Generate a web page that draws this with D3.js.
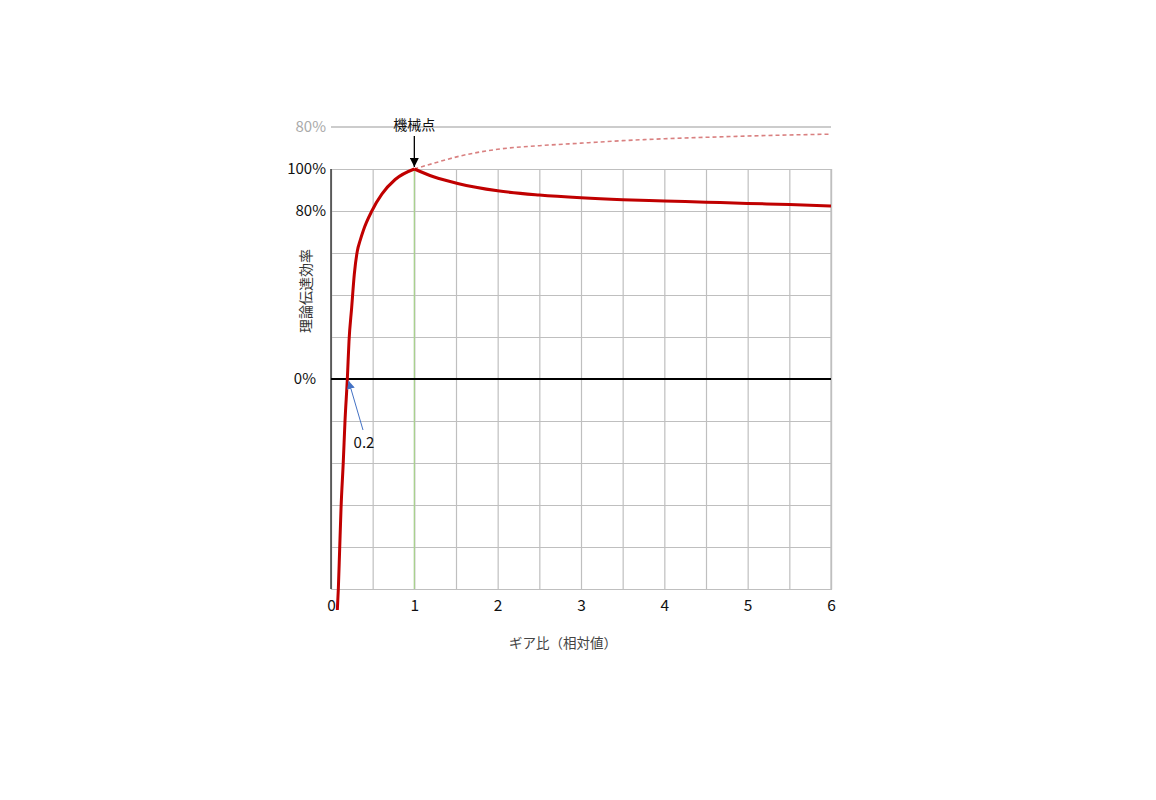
<!DOCTYPE html>
<html>
<head>
<meta charset="utf-8">
<script src="https://cdn.jsdelivr.net/npm/d3@7"></script>
<style>
  body { margin: 0; background: #fff; }
  svg { display: block; font-family: "Noto Sans CJK JP", "Noto Sans", sans-serif; }
</style>
</head>
<body>
<div id="chart"></div>
<script>
// gear ratio (relative) vs theoretical efficiency (%)
const solidX = [0.076, 0.088, 0.104, 0.12, 0.148, 0.168, 0.196, 0.216, 0.248, 0.28, 0.316, 0.35, 0.39, 0.49, 0.61, 0.77, 1.0,
                1.23, 1.52, 2.0, 2.5, 3.0, 3.5, 4.0, 4.5, 5.0, 5.5, 6.0];
const solidY = [-110, -100, -81, -62, -39, -20, 0, 18, 34, 50, 61, 66, 71, 80, 88, 95, 100,
                96.3, 93.1, 89.6, 87.6, 86.3, 85.4, 84.8, 84.2, 83.6, 83.1, 82.4];
const dashX = [1.0, 1.23, 1.52, 2.0, 2.5, 3.0, 3.5, 4.0, 4.5, 5.0, 5.5, 6.0];
const dashY = [100, 102.7, 105.9, 109.4, 111.1, 112.3, 113.5, 114.4, 115.1, 115.7, 116.2, 116.6];

const xGridTicks = d3.range(0, 6.01, 0.5);
const yGridTicks = d3.range(-100, 100.1, 20);
const yLabelTicks = [100, 80];
const topLineValue = 120;
const topLineLabel = "80%";
const zeroLabel = "0%";
const peakX = 1, peakY = 100;
const crossX = 0.2;

const W = 1156, H = 800;
const svg = d3.select("#chart").append("svg")
    .attr("width", W)
    .attr("height", H);

const x = d3.scaleLinear().domain([0, 6]).range([331, 831]);
const y = d3.scaleLinear().domain([-100, 100]).range([589, 169]);

const defs = svg.append("defs");
defs.append("marker")
    .attr("id", "blackHead")
    .attr("viewBox", "0 0 10 10")
    .attr("refX", 10).attr("refY", 5)
    .attr("markerWidth", 9).attr("markerHeight", 9)
    .attr("markerUnits", "userSpaceOnUse")
    .attr("orient", "auto")
    .append("path").attr("d", "M0,0L10,5L0,10Z").attr("fill", "#000");
defs.append("marker")
    .attr("id", "blueHead")
    .attr("viewBox", "0 0 10 10")
    .attr("refX", 10).attr("refY", 5)
    .attr("markerWidth", 8).attr("markerHeight", 8)
    .attr("markerUnits", "userSpaceOnUse")
    .attr("orient", "auto")
    .append("path").attr("d", "M0,0L10,5L0,10Z").attr("fill", "#4472c4");

// vertical grid + x labels
const xAxis = svg.append("g")
    .attr("transform", `translate(0,${y(-100)})`)
    .call(d3.axisBottom(x)
        .tickValues(xGridTicks)
        .tickSize(-(y(-100) - y(100)))
        .tickPadding(11)
        .tickFormat(d => Number.isInteger(d) ? d : ""));
xAxis.select(".domain").attr("stroke", "#bfbfbf").attr("stroke-width", 1.2);
xAxis.selectAll(".tick line").attr("stroke", "#bfbfbf").attr("stroke-width", 1.2);
xAxis.selectAll(".tick text")
    .attr("font-size", 15.5)
    .attr("fill", "#111")
    .attr("font-family", "'Noto Sans CJK JP', sans-serif");

// horizontal grid
const yAxis = svg.append("g")
    .attr("transform", `translate(${x(0)},0)`)
    .call(d3.axisLeft(y)
        .tickValues(yGridTicks)
        .tickSize(-(x(6) - x(0)))
        .tickPadding(5)
        .tickFormat(d => yLabelTicks.includes(d) ? d + "%" : ""));
yAxis.select(".domain").remove();
yAxis.selectAll(".tick line").attr("stroke", "#bfbfbf").attr("stroke-width", 1.2);
yAxis.selectAll(".tick text")
    .attr("font-size", 15)
    .attr("fill", "#111")
    .attr("font-family", "'Noto Sans CJK JP', sans-serif");

// right border
svg.append("line")
    .attr("x1", x(6)).attr("x2", x(6))
    .attr("y1", y(100)).attr("y2", y(-100))
    .attr("stroke", "#bfbfbf").attr("stroke-width", 1.2);

// green line at mechanical point
svg.append("line")
    .attr("x1", x(peakX)).attr("x2", x(peakX))
    .attr("y1", y(100)).attr("y2", y(-100))
    .attr("stroke", "#a9d18e").attr("stroke-width", 1.3);

// left axis line
svg.append("line")
    .attr("x1", x(0)).attr("x2", x(0))
    .attr("y1", y(100)).attr("y2", y(-100))
    .attr("stroke", "#222").attr("stroke-width", 1.3);

// zero line
svg.append("line")
    .attr("x1", x(0)).attr("x2", x(6))
    .attr("y1", y(0)).attr("y2", y(0))
    .attr("stroke", "#000").attr("stroke-width", 2);
svg.append("text")
    .attr("x", x(0) - 15).attr("y", y(0))
    .attr("dy", "0.35em")
    .attr("text-anchor", "end")
    .attr("font-size", 15)
    .attr("fill", "#111")
    .text(zeroLabel);

// top gray reference line
svg.append("line")
    .attr("x1", x(0)).attr("x2", x(6))
    .attr("y1", y(topLineValue)).attr("y2", y(topLineValue))
    .attr("stroke", "#cccccc").attr("stroke-width", 2);
svg.append("text")
    .attr("x", x(0) - 5).attr("y", y(topLineValue))
    .attr("dy", "0.35em")
    .attr("text-anchor", "end")
    .attr("font-size", 15)
    .attr("fill", "#aaaaaa")
    .text(topLineLabel);

// curves
const line = d3.line()
    .x(d => x(d[0]))
    .y(d => y(d[1]))
    .curve(d3.curveMonotoneX);

svg.append("path")
    .datum(dashX.map((d, i) => [d, dashY[i]]))
    .attr("d", line)
    .attr("fill", "none")
    .attr("stroke", "#d98080")
    .attr("stroke-width", 1.6)
    .attr("stroke-dasharray", "4,3");

// solid curve drawn as two pieces so the peak at the mechanical point stays sharp
const solidPts = solidX.map((d, i) => [d, solidY[i]]);
const peakIdx = solidX.indexOf(peakX);
const rising = solidPts.slice(0, peakIdx + 1);
const falling = solidPts.slice(peakIdx);
svg.append("path")
    .attr("d", line(rising) + line(falling))
    .attr("fill", "none")
    .attr("stroke", "#c00000")
    .attr("stroke-width", 3)
    .attr("stroke-linejoin", "round");

// mechanical point annotation
svg.append("line")
    .attr("x1", x(peakX)).attr("x2", x(peakX))
    .attr("y1", 136).attr("y2", y(peakY) - 2)
    .attr("stroke", "#000").attr("stroke-width", 1.3)
    .attr("marker-end", "url(#blackHead)");
svg.append("text")
    .attr("x", x(peakX)).attr("y", 130)
    .attr("text-anchor", "middle")
    .attr("font-size", 14)
    .attr("fill", "#111")
    .text("機械点");

// 0.2 annotation
svg.append("line")
    .attr("x1", 363).attr("x2", x(crossX) + 1)
    .attr("y1", 430).attr("y2", y(0) + 2)
    .attr("stroke", "#4472c4").attr("stroke-width", 1)
    .attr("marker-end", "url(#blueHead)");
svg.append("text")
    .attr("x", 364).attr("y", 443)
    .attr("dy", "0.35em")
    .attr("text-anchor", "middle")
    .attr("font-size", 15)
    .attr("fill", "#111")
    .text(crossX);

// axis titles
svg.append("text")
    .attr("x", 563).attr("y", 648)
    .attr("text-anchor", "middle")
    .attr("font-size", 13.5)
    .attr("fill", "#444")
    .text("ギア比（相対値）");

svg.append("text")
    .attr("transform", `translate(306,291) rotate(-90)`)
    .attr("dy", "0.35em")
    .attr("text-anchor", "middle")
    .attr("font-size", 14)
    .attr("fill", "#333")
    .text("理論伝達効率");
</script>
</body>
</html>
